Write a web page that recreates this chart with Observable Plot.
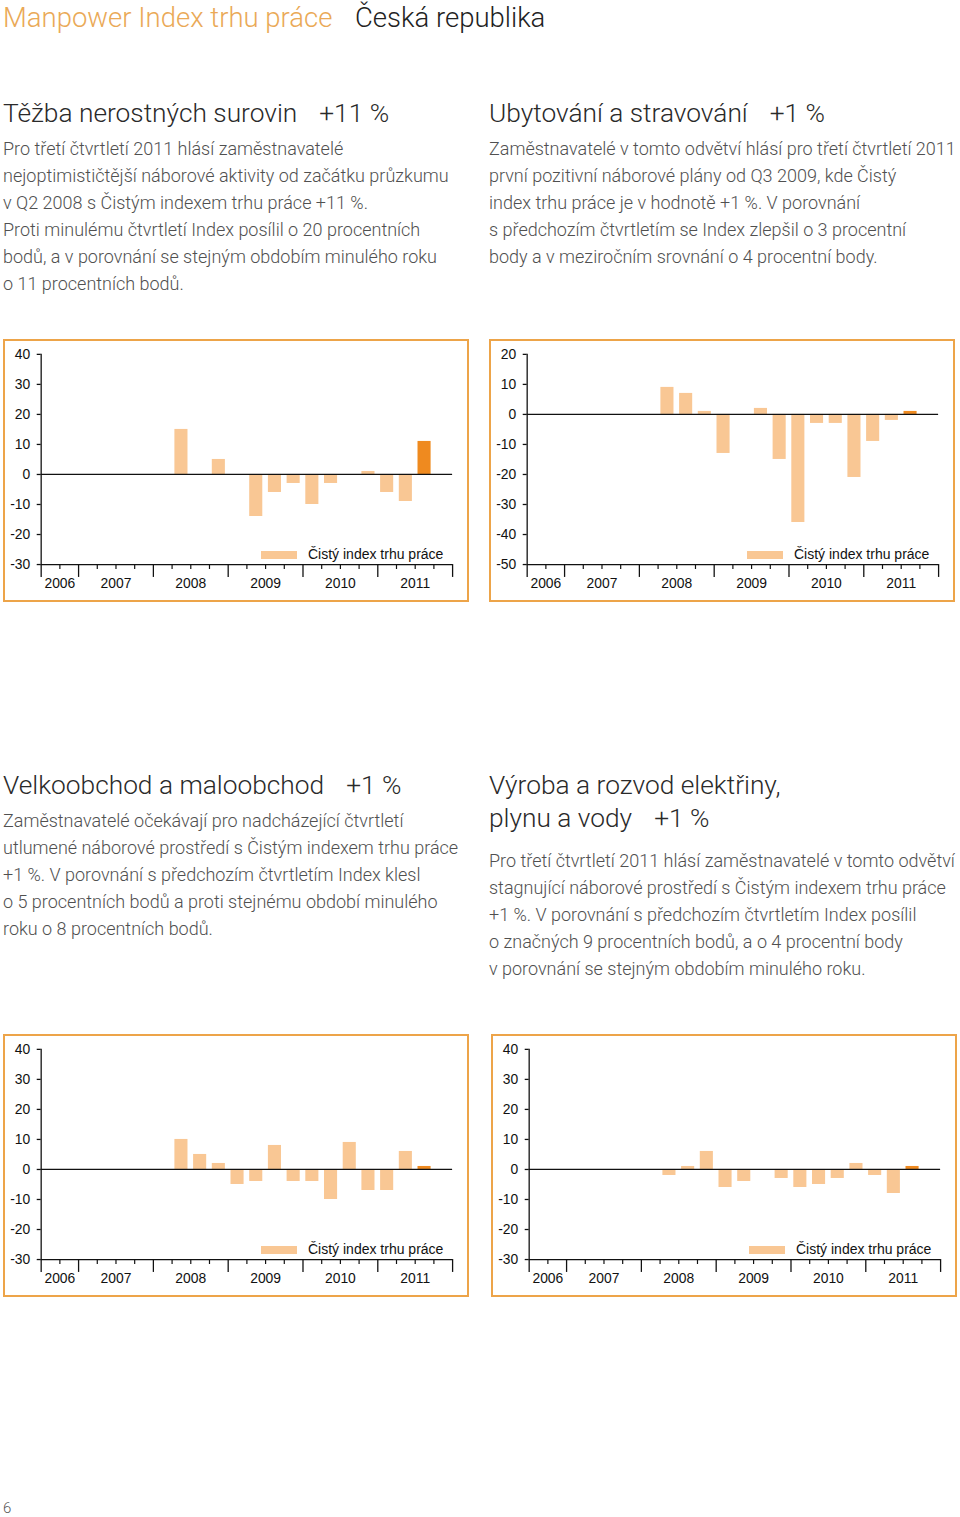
<!DOCTYPE html>
<html>
<head>
<meta charset="utf-8">
<script src="https://cdn.jsdelivr.net/npm/d3@7"></script>
<script src="https://cdn.jsdelivr.net/npm/@observablehq/plot@0.6"></script>
<style>
  html, body { margin: 0; padding: 0; background: #fff; }
  #page { position: relative; width: 960px; height: 1517px; overflow: hidden; font-family: Roboto, "Liberation Sans", sans-serif; }
  .abs { position: absolute; white-space: nowrap; }
  .hdr { font-size: 27.5px; font-weight: 300; line-height: 32px; }
  .title { font-size: 26.3px; font-weight: 300; line-height: 33px; color: #2a2a2a; }
  .gap { display: inline-block; width: 22px; }
  .body { font-size: 18px; font-weight: 300; line-height: 27px; color: #505050; }
  .box { position: absolute; border: 2px solid #eda449; box-sizing: border-box; }
  .box svg { position: absolute; left: -2px; top: -2px; }
  .legend { position: absolute; font-family: "Liberation Sans", Arial, sans-serif; font-size: 14px; color: #111; }
  .legend .sw { position: absolute; width: 36px; height: 8px; background: #f9c794; }
  .legend .lt { position: absolute; white-space: nowrap; line-height: 16px; }
</style>
</head>
<body>
<div id="page">
  <div class="abs hdr" style="left:3px; top:2px; color:#eaa956;">Manpower Index trhu práce</div>
  <div class="abs hdr" style="left:355px; top:2px; color:#222;">Česká republika</div>

  <div class="abs title" style="left:3px; top:97px;">Těžba nerostných surovin<span class="gap"></span>+11 %</div>
  <div class="abs body" style="left:3px; top:135px;">Pro třetí čtvrtletí 2011 hlásí zaměstnavatelé<br>nejoptimističtější náborové aktivity od začátku průzkumu<br>v Q2 2008 s Čistým indexem trhu práce +11 %.<br>Proti minulému čtvrtletí Index posílil o 20 procentních<br>bodů, a v porovnání se stejným obdobím minulého roku<br>o 11 procentních bodů.</div>

  <div class="abs title" style="left:489px; top:97px;">Ubytování a stravování<span class="gap"></span>+1 %</div>
  <div class="abs body" style="left:489px; top:135px;">Zaměstnavatelé v tomto odvětví hlásí pro třetí čtvrtletí 2011<br>první pozitivní náborové plány od Q3 2009, kde Čistý<br>index trhu práce je v hodnotě +1 %. V porovnání<br>s předchozím čtvrtletím se Index zlepšil o 3 procentní<br>body a v meziročním srovnání o 4 procentní body.</div>

  <div class="abs title" style="left:3px; top:769px;">Velkoobchod a maloobchod<span class="gap"></span>+1 %</div>
  <div class="abs body" style="left:3px; top:807px;">Zaměstnavatelé očekávají pro nadcházející čtvrtletí<br>utlumené náborové prostředí s Čistým indexem trhu práce<br>+1 %. V porovnání s předchozím čtvrtletím Index klesl<br>o 5 procentních bodů a proti stejnému období minulého<br>roku o 8 procentních bodů.</div>

  <div class="abs title" style="left:489px; top:769px;">Výroba a rozvod elektřiny,<br>plynu a vody<span class="gap"></span>+1 %</div>
  <div class="abs body" style="left:489px; top:847px;">Pro třetí čtvrtletí 2011 hlásí zaměstnavatelé v tomto odvětví<br>stagnující náborové prostředí s Čistým indexem trhu práce<br>+1 %. V porovnání s předchozím čtvrtletím Index posílil<br>o značných 9 procentních bodů, a o 4 procentní body<br>v porovnání se stejným obdobím minulého roku.</div>

  <div class="box" id="c1" style="left:3px; top:339px; width:466px; height:263px;"></div>
  <div class="box" id="c2" style="left:489px; top:339px; width:466px; height:263px;"></div>
  <div class="box" id="c3" style="left:3px; top:1034px; width:466px; height:263px;"></div>
  <div class="box" id="c4" style="left:491px; top:1034px; width:466px; height:263px;"></div>

  <div class="abs" style="left:3px; top:1501px; font-size:15px; line-height:15px; font-weight:300; color:#555;">6</div>
</div>
<script>
// Quarters on the x axis (2006 Q3 .. 2011 Q4)
const quarters = ["2006 Q3","2006 Q4",
  "2007 Q1","2007 Q2","2007 Q3","2007 Q4",
  "2008 Q1","2008 Q2","2008 Q3","2008 Q4",
  "2009 Q1","2009 Q2","2009 Q3","2009 Q4",
  "2010 Q1","2010 Q2","2010 Q3","2010 Q4",
  "2011 Q1","2011 Q2","2011 Q3","2011 Q4"];
const years = ["2006","2007","2008","2009","2010","2011"];
const currentQuarter = "2011 Q3";
const legendLabel = "Čistý index trhu práce";

// Net Employment Outlook per sector (null = no survey data)
const tezba = [null,null, null,null,null,null, null,15,0,5, 0,-14,-6,-3, -10,-3,0,1, -6,-9,11,null];
const ubytovani = [null,null, null,null,null,null, null,9,7,1, -13,0,2,-15, -36,-3,-3,-21, -9,-2,1,null];
const velkoobchod = [null,null, null,null,null,null, null,10,5,2, -5,-4,8,-4, -4,-10,9,-7, -7,6,1,null];
const vyroba = [null,null, null,null,null,null, null,-2,1,6, -6,-4,0,-3, -6,-5,-3,2, -2,-8,1,null];

// Tick labels for the y axes
const ticksA = [-30,-20,-10,0,10,20,30,40];
const ticksB = [-50,-40,-30,-20,-10,0,10,20];

const colLight = "#f9c794";
const colHi = "#ef8a1f";

function makeChart(el, values, yTicks) {
  const data = quarters.map((q, i) => ({q, i, v: values[i]})).filter(d => d.v !== null);
  const yearOf = q => q.slice(0, 4);
  const yearStart = years.map(y => quarters.findIndex(q => yearOf(q) === y));
  const bounds = [...yearStart, quarters.length];
  const yearCenters = years.map((y, k) => (bounds[k] + bounds[k + 1]) / 2);
  const minor = d3.range(quarters.length + 1).filter(t => !bounds.includes(t));
  const yMin = d3.min(yTicks), yMax = d3.max(yTicks);
  const font = "Liberation Sans, Arial, sans-serif";
  const svg = Plot.plot({
    width: 466, height: 263,
    marginLeft: 38, marginRight: 13, marginTop: 15, marginBottom: 36,
    style: {fontFamily: font, fontSize: "14px", color: "#111", background: "transparent"},
    x: {domain: [0, quarters.length], axis: null},
    y: {domain: [yMin, yMax], axis: null},
    marks: [
      Plot.rectY(data, {x1: d => d.i + 0.15, x2: d => d.i + 0.85, y1: 0, y2: "v",
        fill: d => d.q === currentQuarter ? colHi : colLight}),
      Plot.ruleY([0], {stroke: "#111", strokeWidth: 1.3}),
      Plot.ruleY([yMin], {stroke: "#111", strokeWidth: 1.3}),
      Plot.ruleX([0], {stroke: "#111", strokeWidth: 1.3}),
      Plot.axisY({ticks: yTicks, tickSize: 4, tickPadding: 7, label: null, tickFormat: d => String(d), stroke: "#111", strokeWidth: 1.3, fontSize: 14, fill: "#111"}),
      Plot.axisX({ticks: minor, tickSize: 5, label: null, tickFormat: () => "", stroke: "#111", strokeWidth: 1.2}),
      Plot.axisX({ticks: bounds, tickSize: 13, label: null, tickFormat: () => "", stroke: "#111", strokeWidth: 1.3}),
      Plot.axisX({ticks: yearCenters, tickSize: 0, tickPadding: 14, label: null, tickFormat: d => years[yearCenters.indexOf(d)], fontSize: 14, fill: "#111"})
    ]
  });
  const host = document.getElementById(el);
  host.appendChild(svg);
  const lg = document.createElement("div");
  lg.className = "legend";
  lg.style.left = "0px"; lg.style.top = "0px";
  lg.innerHTML = `<div class="sw" style="left:256px; top:210px;"></div><div class="lt" style="left:303px; top:205px;">${legendLabel}</div>`;
  host.appendChild(lg);
}

makeChart("c1", tezba, ticksA);
makeChart("c2", ubytovani, ticksB);
makeChart("c3", velkoobchod, ticksA);
makeChart("c4", vyroba, ticksA);
</script>
</body>
</html>
